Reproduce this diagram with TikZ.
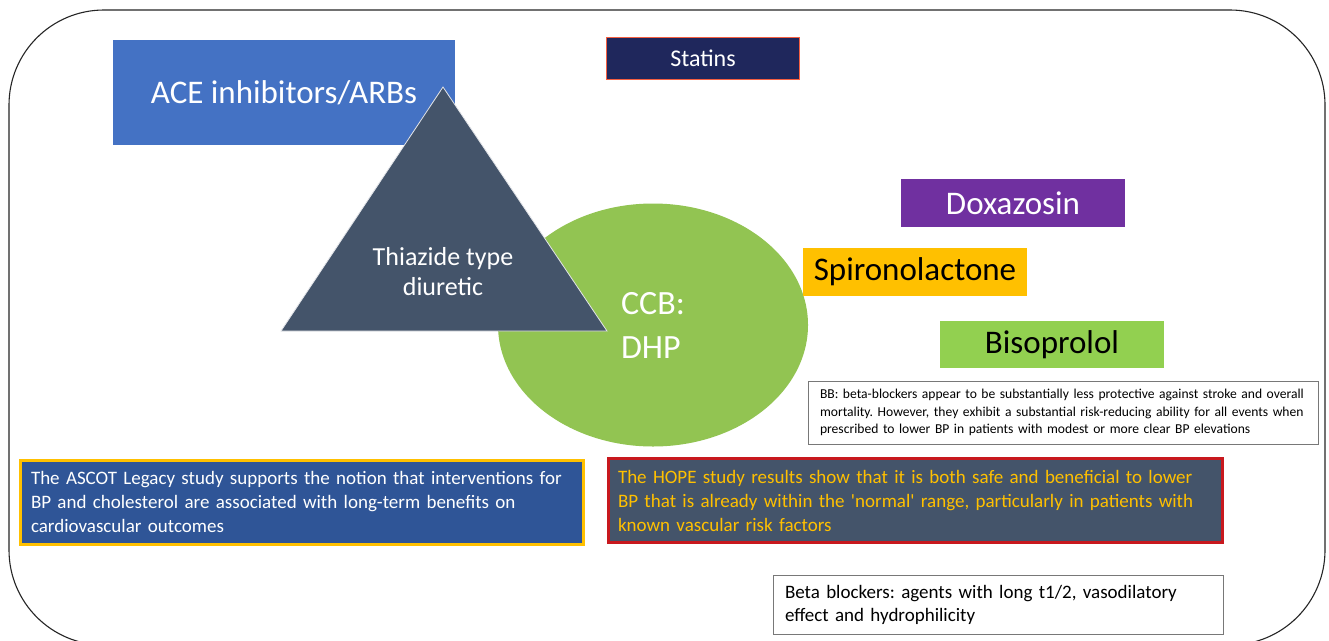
\documentclass[tikz,border=0pt]{standalone}
\usepackage{fontspec}
\setmainfont{Carlito}
\usetikzlibrary{shapes.geometric}
\definecolor{aceblue}{RGB}{68,114,196}
\definecolor{navy}{RGB}{31,39,92}
\definecolor{statinborder}{RGB}{245,95,65}
\definecolor{slate}{RGB}{68,84,106}
\definecolor{ccbgreen}{RGB}{146,196,82}
\definecolor{doxa}{RGB}{112,48,160}
\definecolor{amber}{RGB}{255,192,0}
\definecolor{bisogreen}{RGB}{146,208,80}
\definecolor{ascotblue}{RGB}{47,85,151}
\definecolor{hopered}{RGB}{200,24,30}
\definecolor{greyline}{RGB}{120,120,120}
\frenchspacing
\begin{document}
\begin{tikzpicture}[x=1pt,y=-1pt,
  bigtxt/.style={font=\fontsize{33}{40}\selectfont},
  drug/.style={rectangle, inner sep=0pt, bigtxt},
  note/.style={rectangle, align=left, inner ysep=0pt},
  midtxt/.style={font=\fontsize{19}{24}\selectfont},
]
\useasboundingbox (0,0) rectangle (1329,640);
\fill[white] (0,0) rectangle (1329,640);
% outer frame
\draw[black!85, line width=1.1pt, rounded corners=95pt] (9,10) rectangle (1325,645);

% ACE inhibitors
\node[drug, fill=aceblue, text=white, minimum width=342pt, minimum height=105pt] (ace) at (284,92.5) {ACE inhibitors/ARBs};

% Statins
\node[rectangle, fill=navy, draw=statinborder, line width=1.6pt, text=white, minimum width=193pt, minimum height=42pt, inner sep=0pt, font=\fontsize{24}{28}\selectfont] (statins) at (703,58.5) {Statins};

% CCB ellipse
\node[ellipse, fill=ccbgreen, text=white, minimum width=310pt, minimum height=243pt, inner sep=0pt, align=left, font=\fontsize{34}{44}\selectfont] (ccb) at (653,325) {CCB:\\DHP};

% Thiazide triangle
\coordinate (tA) at (443,87);
\coordinate (tL) at (281,331);
\coordinate (tR) at (607,331);
\filldraw[fill=slate, draw=white!85!slate, line width=0.8pt] (tA) -- (tL) -- (tR) -- cycle;
\node[text=white, align=center, font=\fontsize{26}{30}\selectfont] (thz) at (443,272) {Thiazide type\\diuretic};

% Doxazosin, Spironolactone, Bisoprolol
\node[drug, fill=doxa, text=white, minimum width=224pt, minimum height=48pt] (doxa) at (1013,203) {Doxazosin};
\node[drug, fill=amber, text=black, minimum width=224pt, minimum height=48pt] (spiro) at (915,272) {Spironolactone};
\node[drug, fill=bisogreen, text=black, minimum width=224pt, minimum height=47pt] (biso) at (1052,344.5) {Bisoprolol};

% BB note
\node[note, draw=greyline, line width=0.9pt, fill=white, text width=486pt, inner xsep=12pt, minimum height=63pt, font=\fontsize{13.6}{17.5}\selectfont] (bb) at (1063,412.5)
{\mbox{BB: beta-blockers appear to be substantially less protective against stroke and overall}\\
 \mbox{mortality. However, they exhibit a substantial risk-reducing ability for all events when}\\
 \mbox{prescribed to lower BP in patients with modest or more clear BP elevations}};

% ASCOT
\node[note, fill=ascotblue, draw=amber, line width=3pt, text=white, text width=541pt, inner xsep=11pt, minimum height=84pt, midtxt] (ascot) at (301.5,502)
{\mbox{The ASCOT Legacy study supports the notion that interventions for}\\
 \mbox{BP and cholesterol are associated with long-term benefits on}\\
 \mbox{cardiovascular outcomes}};

% HOPE
\node[note, fill=slate, draw=hopered, line width=3pt, text=amber, text width=594pt, inner xsep=10pt, minimum height=84pt, midtxt] (hope) at (915,500.5)
{\mbox{The HOPE study results show that it is both safe and beneficial to lower}\\
 \mbox{BP that is already within the \textquotesingle normal\textquotesingle{} range, particularly in patients with}\\
 \mbox{known vascular risk factors}};

% Beta blockers note
\node[note, draw=greyline, line width=0.9pt, fill=white, text=black, text width=426pt, inner xsep=12pt, minimum height=59pt, font=\fontsize{19}{23}\selectfont] (beta) at (998,605)
{\mbox{Beta blockers: agents with long t1/2, vasodilatory}\\
 \mbox{effect and hydrophilicity}};
\end{tikzpicture}
\end{document}
